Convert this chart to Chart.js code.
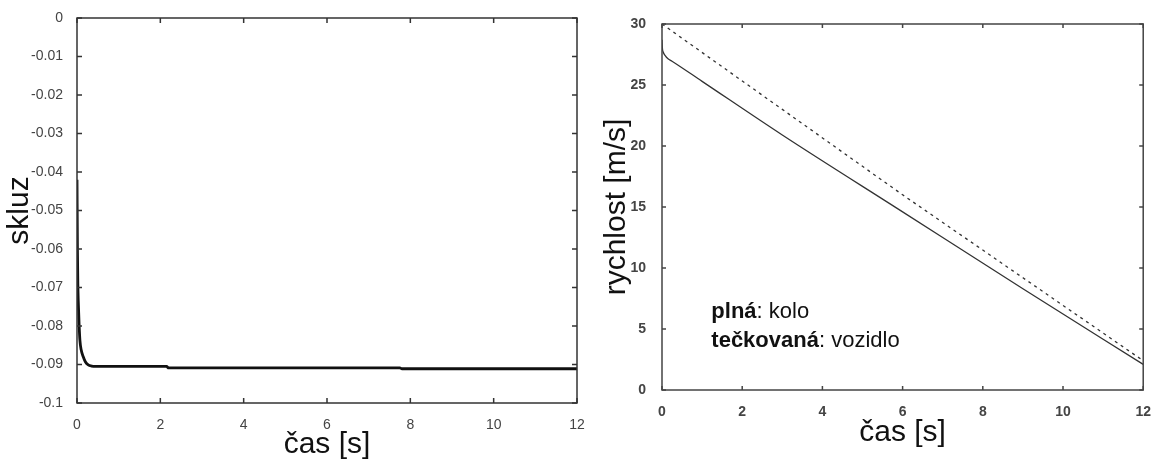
<!DOCTYPE html>
<html>
<head>
<meta charset="utf-8">
<script src="https://cdn.jsdelivr.net/npm/chart.js@4.4.1/dist/chart.umd.min.js"></script>
<style>
 html, body { margin: 0; padding: 0; background: #fff; }
 #wrap { position: relative; width: 1157px; height: 464px; }
 #slipChart { position: absolute; left: 0; top: 0; }
 #speedChart { position: absolute; left: 600px; top: 0; }
</style>
</head>
<body>
<div id="wrap">
 <canvas id="slipChart" width="600" height="464"></canvas>
 <canvas id="speedChart" width="557" height="464"></canvas>
</div>
<script>
// skluz (slip) over time
var slipTime = [0, 0.01, 0.02, 0.03, 0.05, 0.07, 0.1, 0.15, 0.2, 0.27, 0.35, 0.45, 2.15, 2.2, 7.75, 7.8, 12];
var slipValues = [-0.042, -0.06, -0.069, -0.0735, -0.0795, -0.0837, -0.0862, -0.088, -0.0893, -0.0901, -0.0904, -0.0905, -0.0905, -0.0909, -0.0909, -0.0911, -0.0911];

// rychlost kola (solid)
var wheelTime = [0, 0.01, 0.03, 0.08, 0.15, 0.25, 1, 3, 6, 9, 12];
var wheelSpeed = [28.7, 28.0, 27.7, 27.4, 27.15, 26.95, 25.3, 20.9, 14.6, 8.3, 2.1];

// rychlost vozidla (dashed)
var vehicleTime = [0, 3, 6, 9, 12];
var vehicleSpeed = [30.0, 23.0, 16.0, 9.2, 2.4];

var timeTicks = [0, 2, 4, 6, 8, 10, 12];
var noteBold = ["plná", "tečkovaná"];
var noteRest = [": kolo", ": vozidlo"];
var noteAt = [[1.23, 5.9], [1.23, 3.5]];

var fontFamily = "'Liberation Sans', Arial, sans-serif";

function toPoints(xs, ys) {
 return xs.map(function (x, i) {
  return { x: x, y: ys[i] };
 });
}

// box round the plot with inward ticks on all four sides (matlab style)
var framePlugin = {
 id: "frame",
 afterDatasetsDraw: function (chart, args, opts) {
  var ctx = chart.ctx;
  var a = chart.chartArea;
  var xs = chart.scales.x;
  var ys = chart.scales.y;
  ctx.save();
  ctx.strokeStyle = opts.color;
  ctx.lineWidth = opts.width;
  ctx.beginPath();
  xs.ticks.forEach(function (t) {
   var px = xs.getPixelForValue(t.value);
   ctx.moveTo(px, a.bottom);
   ctx.lineTo(px, a.bottom - opts.tick);
   ctx.moveTo(px, a.top);
   ctx.lineTo(px, a.top + opts.tick);
  });
  ys.ticks.forEach(function (t) {
   var py = ys.getPixelForValue(t.value);
   ctx.moveTo(a.left, py);
   ctx.lineTo(a.left + opts.tick, py);
   ctx.moveTo(a.right, py);
   ctx.lineTo(a.right - opts.tick, py);
  });
  ctx.stroke();
  ctx.strokeRect(a.left, a.top, a.right - a.left, a.bottom - a.top);
  ctx.restore();
 }
};

var notePlugin = {
 id: "note",
 afterDraw: function (chart) {
  var ctx = chart.ctx;
  var xs = chart.scales.x;
  var ys = chart.scales.y;
  ctx.save();
  ctx.fillStyle = "#111";
  ctx.textBaseline = "alphabetic";
  noteBold.forEach(function (b, i) {
   var x = xs.getPixelForValue(noteAt[i][0]);
   var y = ys.getPixelForValue(noteAt[i][1]);
   ctx.font = "bold 22px " + fontFamily;
   ctx.fillText(b, x, y);
   var w = ctx.measureText(b).width;
   ctx.font = "22px " + fontFamily;
   ctx.fillText(noteRest[i], x + w, y);
  });
  ctx.restore();
 }
};

function fixedWidth(w) {
 return function (scale) { scale.width = w; };
}
function fixedHeight(h) {
 return function (scale) { scale.height = h; };
}

new Chart(document.getElementById("slipChart"), {
 type: "line",
 data: {
  datasets: [
   {
    label: "skluz",
    data: toPoints(slipTime, slipValues),
    borderColor: "#111",
    borderWidth: 2.8,
    pointRadius: 0,
    tension: 0,
    cubicInterpolationMode: "monotone",
   },
  ],
 },
 options: {
  responsive: false,
  animation: false,
  devicePixelRatio: 1,
  layout: { padding: { top: 18, right: 23, left: 0, bottom: 0 } },
  plugins: {
   legend: { display: false },
   tooltip: { enabled: false },
   frame: { color: "#333", width: 1.5, tick: 5 },
  },
  scales: {
   x: {
    type: "linear",
    min: 0,
    max: 12,
    afterFit: fixedHeight(61),
    afterBuildTicks: function (scale) {
     scale.ticks = timeTicks.map(function (v) { return { value: v }; });
    },
    grid: { display: false },
    border: { display: false },
    ticks: {
     color: "#444",
     padding: 6,
     maxRotation: 0,
     font: { family: fontFamily, size: 14 },
    },
    title: {
     display: true,
     text: "čas [s]",
     color: "#111",
     padding: { top: 0, bottom: 4 },
     font: { family: fontFamily, size: 30, lineHeight: 1 },
    },
   },
   y: {
    min: -0.1,
    max: 0,
    afterFit: fixedWidth(77),
    grid: { display: false },
    border: { display: false },
    ticks: {
     stepSize: 0.01,
     color: "#444",
     padding: 6,
     font: { family: fontFamily, size: 14 },
     callback: function (v) {
      return String(Math.round(v * 100) / 100);
     },
    },
    title: {
     display: true,
     text: "skluz",
     color: "#111",
     padding: { top: 5, bottom: 0 },
     font: { family: fontFamily, size: 30, lineHeight: 1 },
    },
   },
  },
 },
 plugins: [framePlugin],
});

new Chart(document.getElementById("speedChart"), {
 type: "line",
 data: {
  datasets: [
   {
    label: "kolo",
    data: toPoints(wheelTime, wheelSpeed),
    borderColor: "#333",
    borderWidth: 1.3,
    pointRadius: 0,
    cubicInterpolationMode: "monotone",
   },
   {
    label: "vozidlo",
    data: toPoints(vehicleTime, vehicleSpeed),
    borderColor: "#333",
    borderWidth: 1.3,
    borderDash: [3, 4],
    pointRadius: 0,
    tension: 0,
   },
  ],
 },
 options: {
  responsive: false,
  animation: false,
  devicePixelRatio: 1,
  layout: { padding: { top: 24, right: 9, left: 0, bottom: 0 } },
  plugins: {
   legend: { display: false },
   tooltip: { enabled: false },
   frame: { color: "#444", width: 1.5, tick: 4 },
  },
  scales: {
   x: {
    type: "linear",
    min: 0,
    max: 12,
    afterFit: fixedHeight(74),
    afterBuildTicks: function (scale) {
     scale.ticks = timeTicks.map(function (v) { return { value: v }; });
    },
    grid: { display: false },
    border: { display: false },
    ticks: {
     color: "#444",
     padding: 6,
     maxRotation: 0,
     font: { family: fontFamily, size: 14, weight: "bold" },
    },
    title: {
     display: true,
     text: "čas [s]",
     color: "#111",
     padding: { top: 0, bottom: 16 },
     font: { family: fontFamily, size: 30, lineHeight: 1 },
    },
   },
   y: {
    min: 0,
    max: 30,
    afterFit: fixedWidth(62),
    grid: { display: false },
    border: { display: false },
    ticks: {
     stepSize: 5,
     color: "#444",
     padding: 8,
     font: { family: fontFamily, size: 14, weight: "bold" },
    },
    title: {
     display: true,
     text: "rychlost [m/s]",
     color: "#111",
     padding: { top: 1.5, bottom: 0 },
     font: { family: fontFamily, size: 30, lineHeight: 1 },
    },
   },
  },
 },
 plugins: [framePlugin, notePlugin],
});
</script>
</body>
</html>
